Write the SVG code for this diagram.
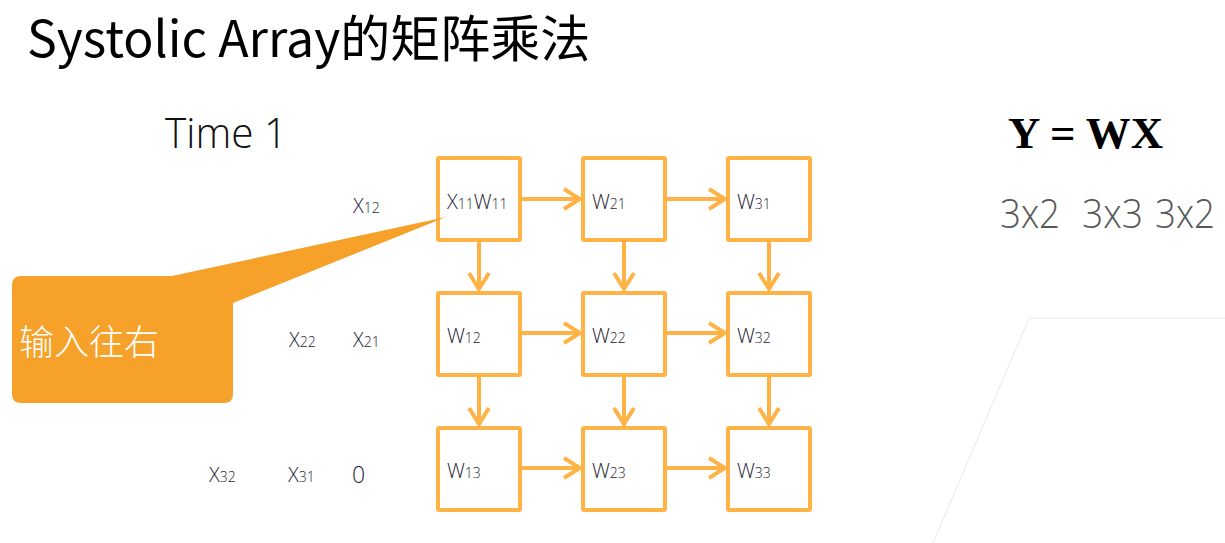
<svg xmlns="http://www.w3.org/2000/svg" width="1225" height="543" viewBox="0 0 1225 543">
  <style>
    .pe { fill: #ffffff; stroke: #FFB347; stroke-width: 4; }
    .flow { fill: none; stroke: #FFB347; stroke-width: 4; marker-end: url(#chev); }
    .lbl { font-family: "Open Sans", "Lato", "Liberation Sans", sans-serif; font-weight: 300; font-size: 20px; fill: #252535; }
    .sub { font-size: 14px; }
    .title { font-family: "Noto Sans CJK SC", "Noto Sans", sans-serif; font-size: 50px; fill: #000000; }
    .light { font-family: "Open Sans", "Lato", "Liberation Sans", sans-serif; font-weight: 300; }
  </style>
  <defs>
    <marker id="chev" viewBox="0 0 20 24" refX="18" refY="12" markerWidth="20" markerHeight="24" markerUnits="userSpaceOnUse" orient="auto">
      <path d="M2,2 L18,12 L2,22" fill="none" stroke="#FFB347" stroke-width="4"/>
    </marker>
  </defs>

  <rect width="1225" height="543" fill="#ffffff"/>

  <!-- faint slanted panel outline, right side -->
  <path d="M1225,318 L1029,318 L933,543" fill="none" stroke="#e8e8e8" stroke-width="1"/>

  <!-- title -->
  <text class="title" x="27" y="57">Systolic Array的矩阵乘法</text>

  <text class="light" x="165" y="148" font-size="43" fill="#111111" textLength="122" lengthAdjust="spacingAndGlyphs">Time 1</text>

  <!-- equation and shapes -->
  <text x="1008" y="148" font-family="Liberation Serif, serif" font-weight="bold" font-size="45" fill="#000000" textLength="155" lengthAdjust="spacingAndGlyphs">Y = WX</text>
  <g class="light" font-size="41" fill="#595959">
    <text x="1000" y="228" textLength="60" lengthAdjust="spacingAndGlyphs">3x2</text>
    <text x="1082" y="228" textLength="61" lengthAdjust="spacingAndGlyphs">3x3</text>
    <text x="1155" y="228" textLength="60" lengthAdjust="spacingAndGlyphs">3x2</text>
  </g>

  <!-- input values waiting to enter the array -->
  <g id="inputs" class="lbl">
    <text x="353" y="213">X<tspan class="sub">12</tspan></text>
    <text x="289" y="347">X<tspan class="sub">22</tspan></text>
    <text x="353" y="347">X<tspan class="sub">21</tspan></text>
    <text x="209" y="482">X<tspan class="sub">32</tspan></text>
    <text x="288" y="482">X<tspan class="sub">31</tspan></text>
    <text x="352" y="483" font-size="23">0</text>
  </g>

  <!-- connectors -->
  <g id="connectors">
    <line class="flow" x1="522" y1="199" x2="580" y2="199"/>
    <line class="flow" x1="667" y1="199" x2="725" y2="199"/>
    <line class="flow" x1="522" y1="333" x2="580" y2="333"/>
    <line class="flow" x1="667" y1="333" x2="725" y2="333"/>
    <line class="flow" x1="522" y1="468" x2="580" y2="468"/>
    <line class="flow" x1="667" y1="468" x2="725" y2="468"/>
    <line class="flow" x1="479" y1="241" x2="479" y2="289"/>
    <line class="flow" x1="624" y1="241" x2="624" y2="289"/>
    <line class="flow" x1="769" y1="241" x2="769" y2="289"/>
    <line class="flow" x1="479" y1="376" x2="479" y2="424"/>
    <line class="flow" x1="624" y1="376" x2="624" y2="424"/>
    <line class="flow" x1="769" y1="376" x2="769" y2="424"/>
  </g>

  <!-- processing elements -->
  <g id="pe11"><rect class="pe" x="438" y="158" width="82" height="82" rx="1"/>
    <text class="lbl" x="447" y="209">X<tspan class="sub">11</tspan>W<tspan class="sub">11</tspan></text></g>
  <g id="pe21"><rect class="pe" x="583" y="158" width="82" height="82" rx="1"/>
    <text class="lbl" x="592" y="209">W<tspan class="sub">21</tspan></text></g>
  <g id="pe31"><rect class="pe" x="728" y="158" width="82" height="82" rx="1"/>
    <text class="lbl" x="737" y="209">W<tspan class="sub">31</tspan></text></g>
  <g id="pe12"><rect class="pe" x="438" y="293" width="82" height="82" rx="1"/>
    <text class="lbl" x="447" y="343">W<tspan class="sub">12</tspan></text></g>
  <g id="pe22"><rect class="pe" x="583" y="293" width="82" height="82" rx="1"/>
    <text class="lbl" x="592" y="343">W<tspan class="sub">22</tspan></text></g>
  <g id="pe32"><rect class="pe" x="728" y="293" width="82" height="82" rx="1"/>
    <text class="lbl" x="737" y="343">W<tspan class="sub">32</tspan></text></g>
  <g id="pe13"><rect class="pe" x="438" y="428" width="82" height="82" rx="1"/>
    <text class="lbl" x="447" y="478">W<tspan class="sub">13</tspan></text></g>
  <g id="pe23"><rect class="pe" x="583" y="428" width="82" height="82" rx="1"/>
    <text class="lbl" x="592" y="478">W<tspan class="sub">23</tspan></text></g>
  <g id="pe33"><rect class="pe" x="728" y="428" width="82" height="82" rx="1"/>
    <text class="lbl" x="737" y="478">W<tspan class="sub">33</tspan></text></g>

  <!-- callout: rounded box with a pointer toward the first cell -->
  <g id="callout">
    <path d="M21,276 L172,276 L446,217 L233,303 L233,394 Q233,403 224,403 L21,403 Q12,403 12,394 L12,285 Q12,276 21,276 Z" fill="#F6A12A"/>
    <text x="19" y="355" font-family="Noto Sans CJK SC, sans-serif" font-weight="300" font-size="35" fill="#ffffff">输入往右</text>
  </g>
</svg>
